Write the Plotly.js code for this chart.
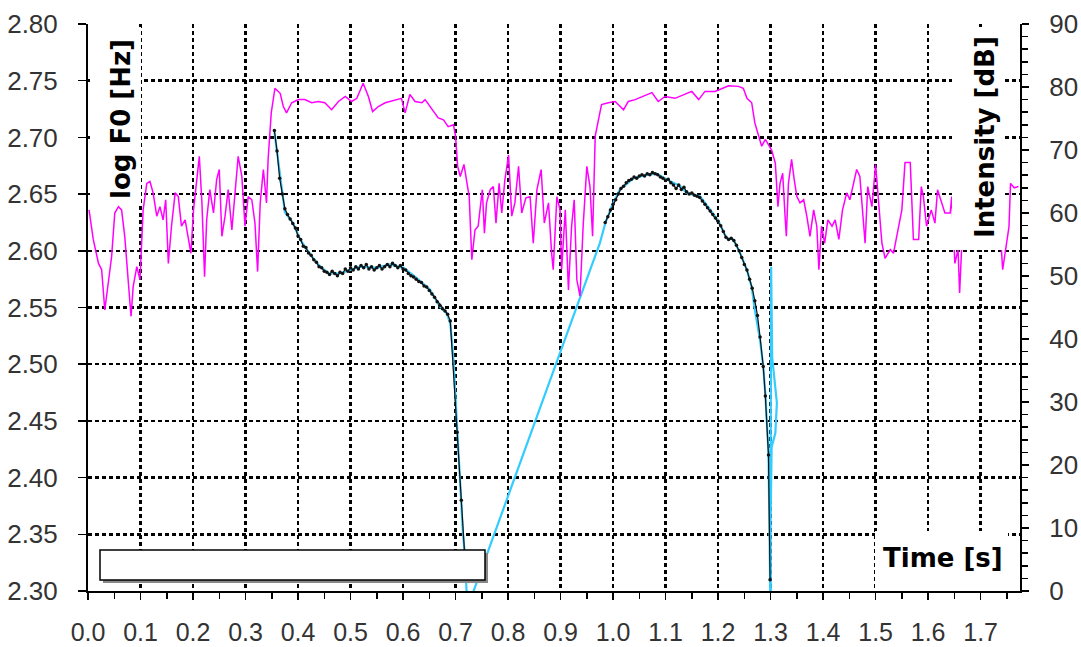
<!DOCTYPE html>
<html>
<head>
<meta charset="utf-8">
<script src="https://cdn.plot.ly/plotly-3.0.1.min.js"></script>
<style>
  html, body { margin: 0; padding: 0; background: #fff; }
  #chart { width: 1081px; height: 647px; }
</style>
</head>
<body>
<div id="chart"></div>
<script>
// ---- Intensity (dB), right axis ----
const intensityTime = [
  0.002, 0.010, 0.020, 0.026, 0.032, 0.039, 0.045, 0.051, 0.058, 0.064,
  0.070, 0.077, 0.082, 0.086, 0.093, 0.099, 0.105, 0.112, 0.118, 0.124,
  0.131, 0.137, 0.143, 0.148, 0.153, 0.159, 0.166, 0.172, 0.178, 0.185,
  0.191, 0.196, 0.201, 0.206, 0.212, 0.217, 0.222, 0.226, 0.232, 0.239,
  0.245, 0.250, 0.255, 0.261, 0.267, 0.274, 0.280, 0.286, 0.293, 0.299,
  0.305, 0.312, 0.318, 0.323, 0.328, 0.334, 0.340, 0.343, 0.349, 0.356,
  0.366, 0.372, 0.378, 0.388, 0.401, 0.413, 0.426, 0.439, 0.451, 0.464,
  0.477, 0.490, 0.502, 0.512, 0.524, 0.534, 0.542, 0.553, 0.566, 0.585,
  0.597, 0.604, 0.613, 0.623, 0.636, 0.642, 0.655, 0.667, 0.677, 0.686,
  0.696, 0.700, 0.704, 0.709, 0.716, 0.721, 0.726, 0.731, 0.737, 0.743,
  0.751, 0.755, 0.759, 0.766, 0.772, 0.777, 0.783, 0.788, 0.794, 0.801,
  0.807, 0.813, 0.820, 0.826, 0.834, 0.842, 0.848, 0.855, 0.863, 0.869,
  0.877, 0.883, 0.886, 0.893, 0.899, 0.902, 0.909, 0.915, 0.921, 0.926,
  0.931, 0.937, 0.943, 0.950, 0.956, 0.961, 0.966, 0.971, 0.978, 0.991,
  1.004, 1.020, 1.029, 1.042, 1.055, 1.074, 1.086, 1.099, 1.118, 1.137,
  1.150, 1.163, 1.175, 1.194, 1.207, 1.220, 1.239, 1.248, 1.255, 1.264,
  1.270, 1.277, 1.283, 1.290, 1.296, 1.302, 1.309, 1.314, 1.318, 1.323,
  1.328, 1.330, 1.334, 1.340, 1.345, 1.350, 1.356, 1.363, 1.369, 1.375,
  1.382, 1.388, 1.392, 1.397, 1.403, 1.409, 1.417, 1.423, 1.430, 1.437,
  1.445, 1.451, 1.458, 1.464, 1.470, 1.475, 1.480, 1.485, 1.493, 1.500,
  1.505, 1.512, 1.518, 1.528, 1.534, 1.542, 1.550, 1.556, 1.566, 1.572,
  1.582, 1.587, 1.591, 1.597, 1.606, 1.613, 1.618, 1.626, 1.632, 1.642,
  1.645, 1.648, 1.651, 1.657, 1.660, 1.664, 1.675, 1.690, 1.705, 1.720,
  1.733, 1.739, 1.742, 1.754, 1.757, 1.764, 1.772
];
const intensityDb = [
  60.5, 55.8, 52.0, 51.0, 44.6, 49.4, 53.1, 60.0, 61.0, 60.5,
  56.3, 48.8, 43.6, 48.3, 51.5, 49.4, 60.5, 64.7, 65.0, 63.2,
  59.5, 61.0, 58.9, 62.1, 52.0, 57.9, 63.2, 62.6, 57.9, 58.9,
  56.3, 53.6, 60.5, 64.7, 69.0, 61.6, 49.9, 58.9, 63.7, 60.0,
  65.3, 66.9, 56.3, 59.5, 63.7, 57.3, 63.7, 69.0, 65.8, 57.9,
  62.6, 62.1, 58.4, 50.7, 61.6, 66.9, 61.6, 68.5, 75.9, 79.8,
  79.0, 76.9, 75.9, 77.5, 78.0, 78.0, 77.5, 77.7, 77.5, 76.4,
  77.7, 78.5, 77.7, 78.2, 80.6, 78.5, 76.1, 76.9, 77.5, 78.0,
  78.2, 75.9, 78.8, 77.7, 77.5, 78.0, 76.4, 75.1, 74.8, 73.7,
  74.0, 72.2, 67.4, 65.8, 67.7, 65.3, 62.6, 52.6, 57.3, 57.9,
  63.7, 56.8, 61.6, 63.7, 64.2, 58.4, 64.7, 60.0, 65.3, 69.2,
  59.5, 61.6, 67.4, 60.0, 62.4, 62.6, 55.2, 63.7, 66.9, 58.4,
  61.6, 53.6, 51.0, 62.6, 60.5, 51.0, 60.5, 47.8, 57.9, 62.1,
  49.4, 46.8, 57.9, 67.4, 64.2, 56.3, 72.2, 74.3, 77.2, 77.5,
  77.7, 76.4, 77.7, 78.0, 78.5, 79.1, 77.7, 78.5, 78.2, 78.8,
  79.3, 78.0, 79.3, 79.3, 79.8, 80.2, 80.1, 79.8, 78.2, 77.5,
  74.3, 72.4, 70.6, 71.7, 70.8, 70.0, 67.9, 61.0, 64.7, 66.3,
  58.9, 56.3, 64.7, 68.5, 65.3, 62.6, 61.6, 62.1, 59.5, 56.3,
  60.5, 57.9, 51.0, 57.9, 55.2, 58.9, 57.9, 58.9, 55.8, 60.5,
  63.2, 62.1, 64.7, 66.9, 65.8, 61.0, 55.2, 64.2, 61.0, 67.7,
  62.1, 55.2, 52.8, 54.2, 53.6, 56.8, 60.5, 68.0, 68.0, 55.8,
  55.8, 64.2, 62.6, 57.9, 60.5, 58.4, 63.7, 61.6, 60.0, 60.0,
  62.6, 57.3, 52.0, 54.2, 47.3, 54.7, 59.0, 61.5, 58.0, 60.0,
  56.0, 55.0, 51.0, 57.8, 64.7, 64.0, 64.2
];

// ---- F0 contour (interpolated, blue), left axis ----
const f0Time = [
  0.355, 0.362, 0.369, 0.375, 0.390, 0.404, 0.417, 0.436, 0.458, 0.480,
  0.499, 0.518, 0.550, 0.575, 0.601, 0.626, 0.651, 0.670, 0.683, 0.690,
  0.696, 0.702, 0.709, 0.714, 0.717, 0.721, 0.725,
  0.975, 0.985, 0.997, 1.013, 1.039, 1.064, 1.083, 1.102, 1.128, 1.140,
  1.166, 1.185, 1.201, 1.216, 1.229, 1.242, 1.255, 1.264, 1.270, 1.280,
  1.286, 1.290, 1.293, 1.296, 1.299, 1.2995, 1.301, 1.303, 1.312, 1.309,
  1.302, 1.300, 1.3005
];
const f0Interp = [
  2.705, 2.680, 2.651, 2.634, 2.625, 2.610, 2.601, 2.589, 2.580, 2.580,
  2.583, 2.586, 2.585, 2.588, 2.585, 2.576, 2.566, 2.551, 2.545, 2.536,
  2.504, 2.451, 2.398, 2.351, 2.336, 2.300, 2.288,
  2.607, 2.624, 2.639, 2.654, 2.664, 2.667, 2.668, 2.663, 2.657, 2.651,
  2.648, 2.636, 2.626, 2.611, 2.610, 2.598, 2.583, 2.568, 2.548, 2.521,
  2.498, 2.474, 2.451, 2.421, 2.310, 2.290, 2.586, 2.506, 2.466, 2.439,
  2.427, 2.360, 2.290
];

// ---- Raw F0 measurements (black) ----
const rawTime = [
  0.355, 0.360, 0.365, 0.370, 0.375, 0.380, 0.385, 0.390, 0.395, 0.400,
  0.405, 0.410, 0.415, 0.420, 0.425, 0.430, 0.435, 0.440, 0.445, 0.450,
  0.455, 0.460, 0.465, 0.470, 0.475, 0.480, 0.485, 0.490, 0.495, 0.500,
  0.505, 0.510, 0.515, 0.520, 0.525, 0.530, 0.535, 0.540, 0.545, 0.550,
  0.555, 0.560, 0.565, 0.570, 0.575, 0.580, 0.585, 0.590, 0.595, 0.600,
  0.605, 0.610, 0.615, 0.620, 0.625, 0.630, 0.635, 0.640, 0.645, 0.650,
  0.655, 0.660, 0.665, 0.670, 0.675, 0.680, 0.685, 0.690, 0.703, 0.711,
  0.719, null,
  0.985, 0.990, 0.995, 1.000, 1.005, 1.010, 1.015, 1.020, 1.025, 1.030,
  1.035, 1.040, 1.045, 1.050, 1.055, 1.060, 1.065, 1.070, 1.075, 1.080,
  1.085, 1.090, 1.095, 1.100, 1.105, 1.110, 1.115, 1.120, 1.125, 1.130,
  1.135, 1.140, 1.145, 1.150, 1.155, 1.160, 1.165, 1.170, 1.175, 1.180,
  1.185, 1.190, 1.195, 1.200, 1.205, 1.210, 1.215, 1.220, 1.225, 1.230,
  1.235, 1.240, 1.245, 1.250, 1.255, 1.260, 1.265, 1.270, 1.275, 1.280,
  1.286, 1.290, 1.296, 1.299
];
const rawF0 = [
  2.706, 2.688, 2.664, 2.650, 2.637, 2.632, 2.628, 2.624, 2.620, 2.613,
  2.610, 2.604, 2.603, 2.598, 2.596, 2.592, 2.590, 2.586, 2.585, 2.582,
  2.581, 2.579, 2.582, 2.580, 2.578, 2.581, 2.580, 2.584, 2.582, 2.585,
  2.583, 2.586, 2.584, 2.587, 2.585, 2.588, 2.584, 2.586, 2.583, 2.585,
  2.587, 2.584, 2.586, 2.588, 2.586, 2.589, 2.587, 2.585, 2.587, 2.584,
  2.583, 2.580, 2.578, 2.577, 2.575, 2.573, 2.572, 2.569, 2.568, 2.565,
  2.562, 2.559, 2.555, 2.552, 2.549, 2.547, 2.544, 2.538, 2.440, 2.380,
  2.320, null,
  2.625, 2.630, 2.636, 2.641, 2.645, 2.650, 2.655, 2.657, 2.660, 2.662,
  2.663, 2.665, 2.664, 2.666, 2.667, 2.666, 2.668, 2.667, 2.669, 2.668,
  2.667, 2.665, 2.664, 2.662, 2.663, 2.660, 2.658, 2.655, 2.658, 2.654,
  2.656, 2.652, 2.650, 2.651, 2.649, 2.648, 2.647, 2.644, 2.641, 2.638,
  2.635, 2.632, 2.629, 2.626, 2.622, 2.617, 2.612, 2.610, 2.611, 2.609,
  2.605, 2.600, 2.594, 2.588, 2.583, 2.575, 2.567, 2.556, 2.543, 2.524,
  2.498, 2.472, 2.420, 2.310
];

// ---- Axis settings ----
const xRange = [0, 1.775];
const f0Range = [2.30, 2.80];
const dbRange = [0, 90];

const tickFont = { family: 'Liberation Sans, Arial, sans-serif', size: 25, color: '#333' };
const titleFont = { family: 'DejaVu Sans, Verdana, sans-serif', size: 26, color: '#000', weight: 'bold' };

const L = 88, R = 61, T = 24, B = 56, W = 1081, H = 647;
const pw = W - L - R, ph = H - T - B;
const px = p => (p - L) / pw;
const py = q => (H - B - q) / ph;

const traces = [
  {
    x: intensityTime, y: intensityDb, yaxis: 'y2', type: 'scatter', mode: 'lines',
    line: { color: '#FF00FF', width: 1.5 }, hoverinfo: 'skip', showlegend: false
  },
  {
    x: f0Time, y: f0Interp, type: 'scatter', mode: 'lines',
    line: { color: '#33CCFF', width: 2.2 }, hoverinfo: 'skip', showlegend: false
  },
  {
    x: rawTime, y: rawF0, type: 'scatter', mode: 'lines+markers', connectgaps: false,
    line: { color: '#111', width: 1.2 }, marker: { color: '#111', size: 3.5 },
    hoverinfo: 'skip', showlegend: false
  }
];

const gridStyle = { showgrid: true, gridcolor: '#000', gridwidth: 2.5, griddash: '4px,3px' };

const layout = {
  width: W, height: H,
  margin: { l: L, r: R, t: T, b: B, pad: 0 },
  paper_bgcolor: '#fff', plot_bgcolor: '#fff',
  showlegend: false,
  xaxis: Object.assign({
    range: xRange, tick0: 0, dtick: 0.1, tickformat: '.1f',
    showline: true, linecolor: '#000', linewidth: 2, zeroline: false,
    ticks: 'outside', ticklen: 7, tickwidth: 1.5, tickcolor: '#000',
    minor: { dtick: 0.05, ticks: 'outside', ticklen: 6, tickwidth: 1.5, tickcolor: '#000', showgrid: false },
    tickfont: tickFont, ticklabelstandoff: 11
  }, gridStyle),
  yaxis: Object.assign({
    range: f0Range, tick0: 2.30, dtick: 0.05, tickformat: '.2f',
    showline: true, linecolor: '#000', linewidth: 2, zeroline: false,
    ticks: 'outside', ticklen: 8, tickwidth: 1.5, tickcolor: '#000',
    tickfont: Object.assign({}, tickFont, { size: 26 }), ticklabelstandoff: 15
  }, gridStyle),
  yaxis2: {
    range: dbRange, tick0: 0, dtick: 10, overlaying: 'y', side: 'right',
    showgrid: false, zeroline: false,
    showline: true, linecolor: '#000', linewidth: 2,
    ticks: 'outside', ticklen: 7, tickwidth: 1.5, tickcolor: '#000',
    minor: { dtick: 2, ticks: 'outside', ticklen: 6, tickwidth: 1.5, tickcolor: '#000', showgrid: false },
    tickfont: Object.assign({}, tickFont, { size: 26 }), ticklabelstandoff: 15
  },
  shapes: [
    // white backgrounds behind the in-plot axis titles
    { type: 'rect', xref: 'paper', yref: 'paper', x0: px(90), x1: px(141), y0: py(205), y1: py(27),
      fillcolor: '#fff', line: { width: 0 }, layer: 'above' },
    { type: 'rect', xref: 'paper', yref: 'paper', x0: px(952), x1: px(1004), y0: py(250), y1: py(27),
      fillcolor: '#fff', line: { width: 0 }, layer: 'above' },
    { type: 'rect', xref: 'paper', yref: 'paper', x0: px(875), x1: px(1008), y0: py(589), y1: py(531),
      fillcolor: '#fff', line: { width: 0 }, layer: 'above' },
    // empty legend box with shadow
    { type: 'rect', xref: 'paper', yref: 'paper', x0: px(103), x1: px(488), y0: py(583), y1: py(553),
      fillcolor: '#888', line: { width: 0 }, layer: 'above' },
    { type: 'rect', xref: 'paper', yref: 'paper', x0: px(100), x1: px(485), y0: py(580), y1: py(550),
      fillcolor: '#fff', line: { color: '#000', width: 1.5 }, layer: 'above' }
  ],
  annotations: [
    { text: 'log F0 [Hz]', xref: 'paper', yref: 'paper', x: px(121), y: py(119),
      showarrow: false, textangle: -90, font: titleFont, xanchor: 'center', yanchor: 'middle' },
    { text: 'Intensity [dB]', xref: 'paper', yref: 'paper', x: px(985), y: py(137),
      showarrow: false, textangle: -90, font: titleFont, xanchor: 'center', yanchor: 'middle' },
    { text: 'Time [s]', xref: 'paper', yref: 'paper', x: px(943), y: py(558),
      showarrow: false, font: titleFont, xanchor: 'center', yanchor: 'middle' }
  ]
};

Plotly.newPlot('chart', traces, layout, { displayModeBar: false, staticPlot: true });
</script>
</body>
</html>
